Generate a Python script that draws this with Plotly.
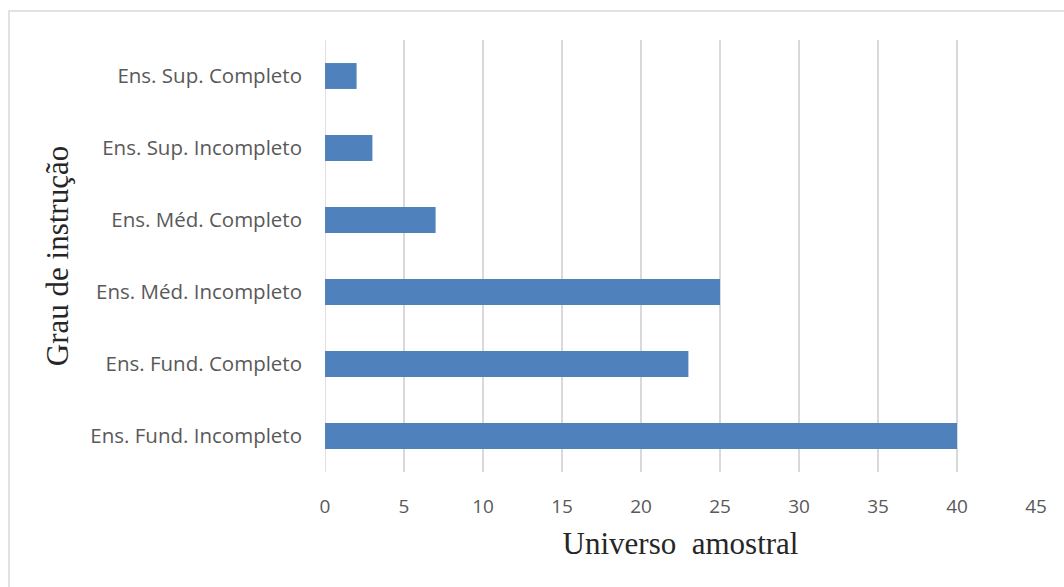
import plotly.graph_objects as go

categories = ["Ens. Fund. Incompleto", "Ens. Fund. Completo", "Ens. Méd. Incompleto",
              "Ens. Méd. Completo", "Ens. Sup. Incompleto", "Ens. Sup. Completo"]
values = [40, 23, 25, 7, 3, 2]
x_ticks = [0, 5, 10, 15, 20, 25, 30, 35, 40, 45]

W, H = 1064, 587
L, R, T, B = 325, 28, 40, 115
pw, ph = W - L - R, H - T - B

fig = go.Figure(go.Bar(
    x=values, y=categories, orientation="h",
    marker=dict(color="#4f81bd", line=dict(width=0)),
))

fig.update_layout(
    width=W, height=H,
    margin=dict(l=L, r=R, t=T, b=B, pad=0),
    paper_bgcolor="white", plot_bgcolor="white",
    bargap=0.64,
    showlegend=False,
    xaxis=dict(range=[0, 45], tickvals=x_ticks, showgrid=True, gridcolor="#d9d9d9",
               gridwidth=1.5, zeroline=False, showline=False, ticks="",
               tickfont=dict(family="Open Sans", size=19, color="#595959"),
               ticklabelstandoff=21,
               title=dict(text="Universo  amostral", standoff=14,
                          font=dict(family="Liberation Serif", size=31, color="#262626"))),
    yaxis=dict(showgrid=False, zeroline=False, showline=False, ticks="",
               tickfont=dict(family="Open Sans", size=20.5, color="#595959"),
               ticklabelstandoff=22,
               title=dict(text="Grau de instrução", standoff=12,
                          font=dict(family="Liberation Serif", size=31, color="#262626"))),
    shapes=[
        dict(type="rect", xref="paper", yref="paper",
             x0=(9 - L) / pw, x1=(W + 5 - L) / pw,
             y0=-(H + 5 - T - ph) / ph, y1=(H - 11 - B) / ph,
             line=dict(color="#d9d9d9", width=1.5), fillcolor="rgba(0,0,0,0)", layer="below"),
        dict(type="line", xref="x", yref="paper", x0=0, x1=0, y0=0, y1=1,
             line=dict(color="#d9d9d9", width=1.5), layer="below"),
    ],
)

fig.write_html("out.html")
